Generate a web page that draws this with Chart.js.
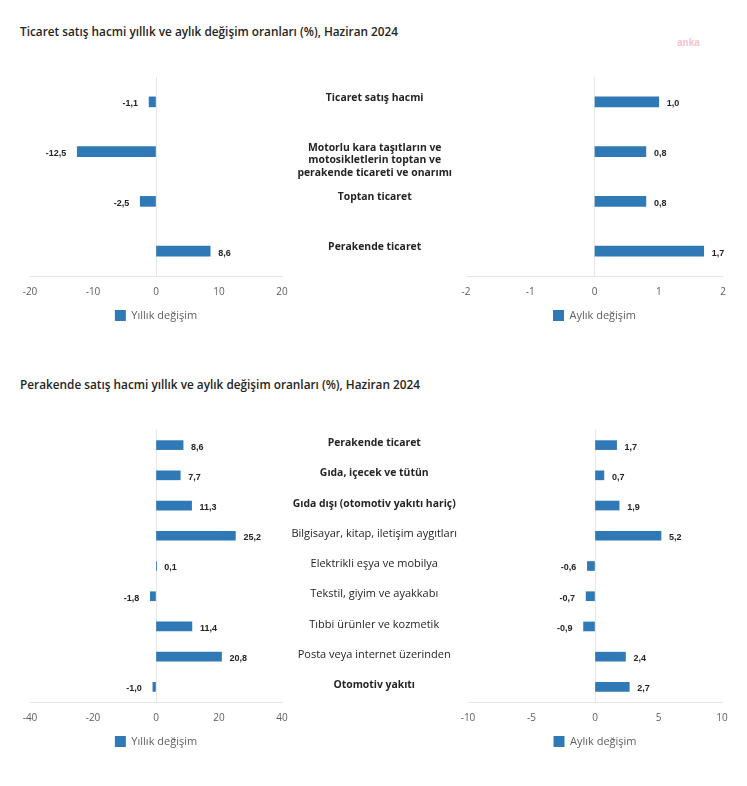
<!DOCTYPE html>
<html>
<head>
<meta charset="utf-8">
<script src="https://cdn.jsdelivr.net/npm/chart.js@4.4.1/dist/chart.umd.min.js"></script>
<style>
  body { margin: 0; background: #fff; width: 747px; height: 786px; position: relative; overflow: hidden; }
  canvas { position: absolute; }
  .title { position: absolute; left: 20px; font: 600 11.8px "Open Sans", sans-serif; color: #252423; line-height: 16px; white-space: nowrap; }
  .mark { position: absolute; left: 677px; top: 37px; font: bold 10px "Liberation Sans", sans-serif; color: #f5c3cc; }
</style>
</head>
<body>
<div class="title" style="top:23px">Ticaret satış hacmi yıllık ve aylık değişim oranları (%), Haziran 2024</div>
<div class="mark">anka</div>
<div class="title" style="top:376px">Perakende satış hacmi yıllık ve aylık değişim oranları (%), Haziran 2024</div>

<canvas id="tl" width="312" height="272" style="left:0;top:60px"></canvas>
<canvas id="tr" width="457" height="272" style="left:290px;top:60px"></canvas>
<canvas id="bl" width="312" height="344" style="left:0;top:413px"></canvas>
<canvas id="br" width="457" height="344" style="left:290px;top:413px"></canvas>

<script>
// --- data ---
const tradeCategories = [
  'Ticaret satış hacmi',
  ['', '', 'Motorlu kara taşıtların ve', 'motosikletlerin toptan ve', 'perakende ticareti ve onarımı'],
  'Toptan ticaret',
  'Perakende ticaret'
];
const tradeYearly = [-1.1, -12.5, -2.5, 8.6];
const tradeMonthly = [1.0, 0.8, 0.8, 1.7];

const retailCategories = [
  'Perakende ticaret',
  'Gıda, içecek ve tütün',
  'Gıda dışı (otomotiv yakıtı hariç)',
  'Bilgisayar, kitap, iletişim aygıtları',
  'Elektrikli eşya ve mobilya',
  'Tekstil, giyim ve ayakkabı',
  'Tıbbi ürünler ve kozmetik',
  'Posta veya internet üzerinden',
  'Otomotiv yakıtı'
];
const retailBold = [true, true, true, false, false, false, false, false, true];
const retailYearly = [8.6, 7.7, 11.3, 25.2, 0.1, -1.8, 11.4, 20.8, -1.0];
const retailMonthly = [1.7, 0.7, 1.9, 5.2, -0.6, -0.7, -0.9, 2.4, 2.7];

const yearlyLabel = 'Yıllık değişim';
const monthlyLabel = 'Aylık değişim';

// --- style ---
const FONT = '"Open Sans", sans-serif';
const BAR = '#2f7ab6';
const GRID = '#e6e6e6';
const TICK = '#605e5c';
const TEXT = '#252423';

// value labels next to bar ends, with comma decimals
const valueLabels = {
  id: 'valueLabels',
  afterDatasetsDraw(chart) {
    const ctx = chart.ctx;
    const data = chart.data.datasets[0].data;
    ctx.save();
    ctx.font = 'bold 9px "Liberation Sans", Arial, sans-serif';
    ctx.fillStyle = TEXT;
    ctx.textBaseline = 'middle';
    chart.getDatasetMeta(0).data.forEach((bar, i) => {
      const v = data[i];
      const txt = v.toFixed(1).replace('.', ',');
      if (v >= 0) {
        ctx.textAlign = 'left';
        ctx.fillText(txt, bar.x + 8, bar.y + 2);
      } else {
        ctx.textAlign = 'right';
        ctx.fillText(txt, bar.x - 11, bar.y + 2);
      }
    });
    ctx.restore();
  }
};

// put the legend under the middle of the plot area, not the canvas
const centerLegend = {
  id: 'centerLegend',
  afterLayout(chart) {
    const lg = chart.legend, a = chart.chartArea;
    if (!lg) return;
    lg.left = a.left;
    lg.right = a.right;
    lg.width = a.right - a.left;
  }
};

function makeChart(id, cats, values, label, range, step, opts) {
  return new Chart(document.getElementById(id), {
    type: 'bar',
    data: {
      labels: cats,
      datasets: [{
        label: label,
        data: values,
        backgroundColor: BAR,
        borderWidth: 0,
        barThickness: opts.thickness
      }]
    },
    options: {
      indexAxis: 'y',
      responsive: false,
      animation: false,
      devicePixelRatio: 1,
      layout: { padding: { top: 17, left: opts.padLeft, right: opts.padRight, bottom: opts.padBottom } },
      scales: {
        x: {
          min: -range,
          max: range,
          grid: {
            drawTicks: false,
            color: c => (c.tick && c.tick.value === 0 ? GRID : 'rgba(0,0,0,0)')
          },
          border: { color: GRID },
          ticks: { stepSize: step, padding: 10, color: TICK, font: { family: FONT, size: 10 } }
        },
        y: {
          display: opts.showCats,
          grid: { display: false, drawTicks: false },
          border: { display: false },
          ticks: {
            autoSkip: false,
            crossAlign: 'center',
            padding: opts.labelPad || 0,
            labelOffset: opts.labelOffset || 0,
            color: TEXT,
            font: c => (opts.bold[c.index]
              ? { family: FONT, size: 10.4, weight: 'bold' }
              : { family: FONT, size: 11, weight: 'normal' })
          },
          afterFit: s => {
            if (!opts.showCats) return;
            s.width = opts.axisWidth;
            s.paddingTop = 0;
            s.paddingBottom = 0;
          }
        }
      },
      plugins: {
        legend: {
          position: 'bottom',
          labels: { boxWidth: 11, boxHeight: 11, padding: 2, color: TICK, font: { family: FONT, size: 11 } }
        },
        tooltip: { enabled: false }
      }
    },
    plugins: [valueLabels, centerLegend]
  });
}

const allBold = tradeCategories.map(() => true);

makeChart('tl', tradeCategories, tradeYearly, yearlyLabel, 20, 10,
  { showCats: false, thickness: 10, padLeft: 30, padRight: 30, padBottom: 1, bold: allBold });
makeChart('tr', tradeCategories, tradeMonthly, monthlyLabel, 2, 1,
  { showCats: true, thickness: 10, padLeft: 0, padRight: 24, padBottom: 1, axisWidth: 176, labelPad: 14, labelOffset: -4, bold: allBold });
makeChart('bl', retailCategories, retailYearly, yearlyLabel, 40, 20,
  { showCats: false, thickness: 9, padLeft: 30, padRight: 30, padBottom: 0, bold: retailBold });
makeChart('br', retailCategories, retailMonthly, monthlyLabel, 10, 5,
  { showCats: true, thickness: 9, padLeft: 0, padRight: 25, padBottom: 0, axisWidth: 178, labelPad: 11, labelOffset: -2, bold: retailBold });
</script>
</body>
</html>
